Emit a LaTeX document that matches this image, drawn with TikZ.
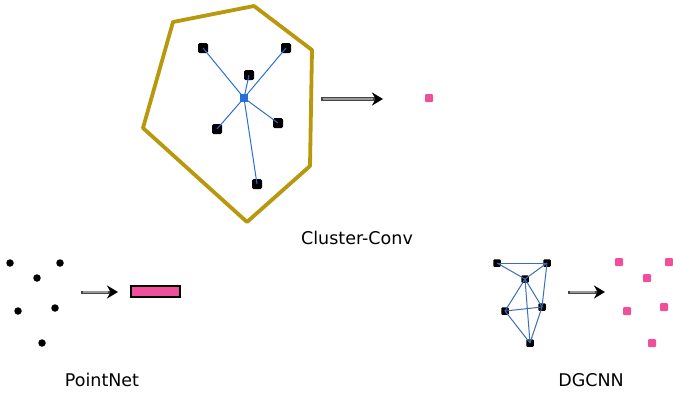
\documentclass[tikz,border=0pt]{standalone}
\usepackage{fontspec}
\setmainfont{DejaVu Sans}
\usetikzlibrary{arrows.meta}

\definecolor{hullgold}{RGB}{184,152,12}
\definecolor{edgeblue}{RGB}{40,110,215}
\definecolor{graphblue}{RGB}{60,110,180}
\definecolor{ptpink}{RGB}{240,80,155}

\tikzset{
  blk/.style={fill=black, rounded corners=1.5pt, minimum size=10pt, inner sep=0pt},
  ctr/.style={fill=edgeblue, minimum size=8pt, inner sep=0pt},
  dot/.style={circle, fill=black, minimum size=7.5pt, inner sep=0pt},
  sq/.style={fill=black, rounded corners=1pt, minimum size=7.5pt, inner sep=0pt},
  pink/.style={fill=ptpink, rounded corners=1pt, minimum size=8pt, inner sep=0pt},
  flow/.style={line width=3.6pt, gray!55!black,
    -{Stealth[length=11pt, width=13pt, color=black, fill=black]},
    postaction={draw, -, line width=1.6pt, gray!80, shorten >=10pt, shorten <=1.5pt}},
  flowsmall/.style={flow, line width=3pt},
  lbl/.style={font=\fontsize{17.5}{20}\selectfont}
}

\begin{document}
\begin{tikzpicture}[x=1pt, y=-1pt]
  \useasboundingbox (0,0) rectangle (673,397);

  % Cluster-Conv
  \draw[hullgold, line width=3.8pt, line join=round]
    (173,22) -- (254,6) -- (312,50) -- (310,166) -- (247,222) -- (143,128) -- cycle;
  \node[ctr] (c0) at (244,98) {};
  \node[blk] (c1) at (203,48) {};
  \node[blk] (c2) at (286,48) {};
  \node[blk] (c3) at (249,75) {};
  \node[blk] (c4) at (217,129) {};
  \node[blk] (c5) at (278,123) {};
  \node[blk] (c6) at (257,184) {};
  \foreach \i in {1,...,6}
    \draw[edgeblue, line width=1pt] (c0.center) -- (c\i.center);
  \node[ctr] at (244,98) {};
  \coordinate (ca) at (321,99);
  \coordinate (cb) at (383,99);
  \draw[flow] (ca) -- (cb);
  \node[pink] (cout) at (429,98) {};
  \node[lbl] (clab) at (357,238) {Cluster-Conv};

  % PointNet
  \node[dot] (p1) at (10,263) {};
  \node[dot] (p2) at (60,263) {};
  \node[dot] (p3) at (37,278) {};
  \node[dot] (p4) at (18,311) {};
  \node[dot] (p5) at (55,308) {};
  \node[dot] (p6) at (42,343) {};
  \coordinate (pa) at (81,292);
  \coordinate (pb) at (118,292);
  \draw[flowsmall] (pa) -- (pb);
  \node[draw=black, line width=2pt, fill=ptpink, minimum width=49pt, minimum height=11pt, inner sep=0pt] (pout) at (155.5,291.5) {};
  \node[lbl] (plab) at (102,380) {PointNet};

  % DGCNN
  \node[sq] (d1) at (497,263) {};
  \node[sq] (d2) at (547,263) {};
  \node[sq] (d3) at (525,279) {};
  \node[sq] (d4) at (505,311) {};
  \node[sq] (d5) at (542,307) {};
  \node[sq] (d6) at (530,343) {};
  \foreach \a/\b in {1/2,1/3,2/3,2/5,3/4,3/5,3/6,4/5,4/6,5/6}
    \draw[graphblue, line width=1pt] (d\a.center) -- (d\b.center);
  \coordinate (da) at (568,292);
  \coordinate (db) at (605,292);
  \draw[flowsmall] (da) -- (db);
  \node[pink] (q1) at (619,262) {};
  \node[pink] (q2) at (669,262) {};
  \node[pink] (q3) at (647,278) {};
  \node[pink] (q4) at (627,311) {};
  \node[pink] (q5) at (664,307) {};
  \node[pink] (q6) at (652,343) {};
  \node[lbl] (dlab) at (591,380) {DGCNN};
\end{tikzpicture}
\end{document}
